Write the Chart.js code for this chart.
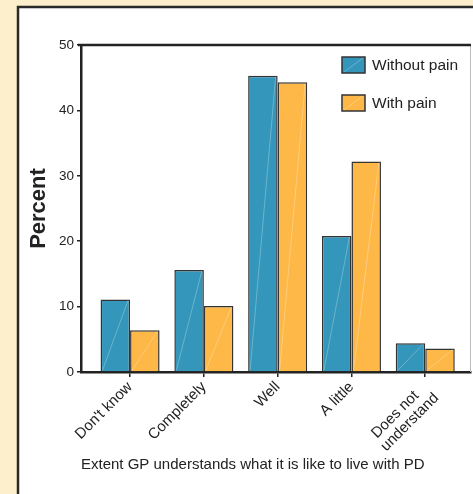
<!DOCTYPE html>
<html>
<head>
<meta charset="utf-8">
<script src="https://cdn.jsdelivr.net/npm/chart.js@4.4.0/dist/chart.umd.min.js"></script>
<style>
html,body{margin:0;padding:0;background:#fdefcb;}
#wrap{width:473px;height:494px;}
</style>
</head>
<body>
<div id="wrap"><canvas id="chart" width="473" height="494"></canvas></div>
<script>
// ================= DATA =================
// trailing spaces on "Does not" mimic the centred two-line label
const categories = ["Don't know", "Completely", "Well", "A little", ["Does not   ", "understand"]];
const withoutPain = [11.1, 15.6, 45.3, 20.8, 4.4];
const withPain = [6.4, 10.1, 44.3, 32.2, 3.6];
const seriesLabels = ["Without pain", "With pain"];
const yTicks = [0, 10, 20, 30, 40, 50];

const BLUE = "#3396ba";
const ORANGE = "#fdb847";
const INK = "#222";

// ================= PLUGINS =================
// cream page + white panel behind the chart, box lines on top
const frame = {
    id: "frame",
    beforeDraw(chart){
        const {ctx, width, height} = chart;
        ctx.save();
        ctx.fillStyle = "#fdefcb";
        ctx.fillRect(0, 0, width, height);
        ctx.fillStyle = "#fff";
        ctx.fillRect(18, 7, width, height);
        ctx.strokeStyle = "#2a2a2a";
        ctx.lineWidth = 2.5;
        ctx.beginPath();
        ctx.moveTo(18, height + 5);
        ctx.lineTo(18, 7);
        ctx.lineTo(width + 5, 7);
        ctx.stroke();
        ctx.restore();
    },
    afterDraw(chart){
        const {ctx, chartArea: a} = chart;
        ctx.save();
        ctx.strokeStyle = "#bdbdbd";
        ctx.lineWidth = 1;
        ctx.beginPath();
        ctx.moveTo(a.right - 0.5, a.top);
        ctx.lineTo(a.right - 0.5, a.bottom);
        ctx.stroke();
        ctx.strokeStyle = INK;
        ctx.lineWidth = 2.5;
        ctx.beginPath();
        ctx.moveTo(a.left - 3, a.top);
        ctx.lineTo(a.right, a.top);
        ctx.stroke();
        ctx.restore();
    }
};

// faint diagonal streak across every bar
const streaks = {
    id: "streaks",
    afterDatasetsDraw(chart){
        const ctx = chart.ctx;
        ctx.save();
        ctx.strokeStyle = "rgba(255,255,255,0.35)";
        ctx.lineWidth = 0.8;
        chart.data.datasets.forEach((ds, i)=>{
            chart.getDatasetMeta(i).data.forEach(bar=>{
                const {x, y, base, width} = bar.getProps(["x","y","base","width"], true);
                ctx.beginPath();
                ctx.moveTo(x - width/2 + 2, base - 1);
                ctx.lineTo(x + width/2 - 2, y + 1);
                ctx.stroke();
            });
        });
        ctx.restore();
    }
};

// legend inside the plot, top right
const boxLegend = {
    id: "boxLegend",
    afterDraw(chart){
        const {ctx, chartArea: a} = chart;
        ctx.save();
        ctx.font = "15.5px 'Liberation Sans', Arial, sans-serif";
        ctx.textBaseline = "middle";
        chart.data.datasets.forEach((ds, i)=>{
            const bx = a.right - 129, by = a.top + 12 + i*38, bw = 23, bh = 16;
            ctx.fillStyle = ds.backgroundColor;
            ctx.fillRect(bx, by, bw, bh);
            ctx.strokeStyle = "rgba(255,255,255,0.35)";
            ctx.lineWidth = 0.8;
            ctx.beginPath();
            ctx.moveTo(bx + 2, by + bh - 1);
            ctx.lineTo(bx + bw - 2, by + 1);
            ctx.stroke();
            ctx.strokeStyle = "#333";
            ctx.lineWidth = 1.5;
            ctx.strokeRect(bx, by, bw, bh);
            ctx.fillStyle = INK;
            ctx.fillText(ds.label, bx + bw + 7, by + bh/2 + 1);
        });
        ctx.restore();
    }
};

// ================= CHART =================
const font = "'Liberation Sans', Arial, sans-serif";

new Chart(document.getElementById("chart"), {
    type: "bar",
    data: {
        datasets: [
            {label: seriesLabels[0], data: withoutPain.map((v,i)=>({x:i, y:v})), backgroundColor: BLUE},
            {label: seriesLabels[1], data: withPain.map((v,i)=>({x:i, y:v})), backgroundColor: ORANGE}
        ]
    },
    options: {
        responsive: false,
        animation: false,
        layout: {padding: {top: 45, right: 2, left: 0, bottom: 0}},
        datasets: {
            bar: {borderColor: "#333", borderWidth: 1.5, categoryPercentage: 0.8, barPercentage: 1.0}
        },
        plugins: {legend: {display: false}, tooltip: {enabled: false}},
        scales: {
            x: {
                type: "linear",
                min: -0.665,
                max: 4.62,
                offset: false,
                afterFit: s => { s.height = 122; },
                afterBuildTicks: s => { s.ticks = categories.map((c,i)=>({value:i})); },
                grid: {display: true, offset: false, drawOnChartArea: false, drawTicks: true, tickLength: 5, color: INK, lineWidth: 1.5},
                border: {display: true, color: INK, width: 2.5},
                ticks: {
                    autoSkip: false, minRotation: 45, maxRotation: 45, padding: 2,
                    color: INK, font: {family: font, size: 15, lineHeight: 1.05},
                    callback: v => categories[v]
                },
                title: {
                    display: true, text: "Extent GP understands what it is like to live with PD",
                    align: "start", color: INK, font: {family: font, size: 15},
                    padding: {top: 0, bottom: 20}
                }
            },
            y: {
                min: 0,
                max: 50,
                afterFit: s => { s.width = 81; },
                afterBuildTicks: s => { s.ticks = yTicks.map(v=>({value:v})); },
                grid: {display: true, drawOnChartArea: false, drawTicks: true, tickLength: 4, color: INK, lineWidth: 1.5},
                border: {display: true, color: INK, width: 2.5},
                ticks: {padding: 3, color: INK, font: {family: font, size: 13.5}},
                title: {
                    display: true, text: "Percent", color: INK,
                    font: {family: font, size: 22, weight: "bold"},
                    padding: {top: 26, bottom: 0}
                }
            }
        }
    },
    plugins: [frame, streaks, boxLegend]
});
</script>
</body>
</html>
